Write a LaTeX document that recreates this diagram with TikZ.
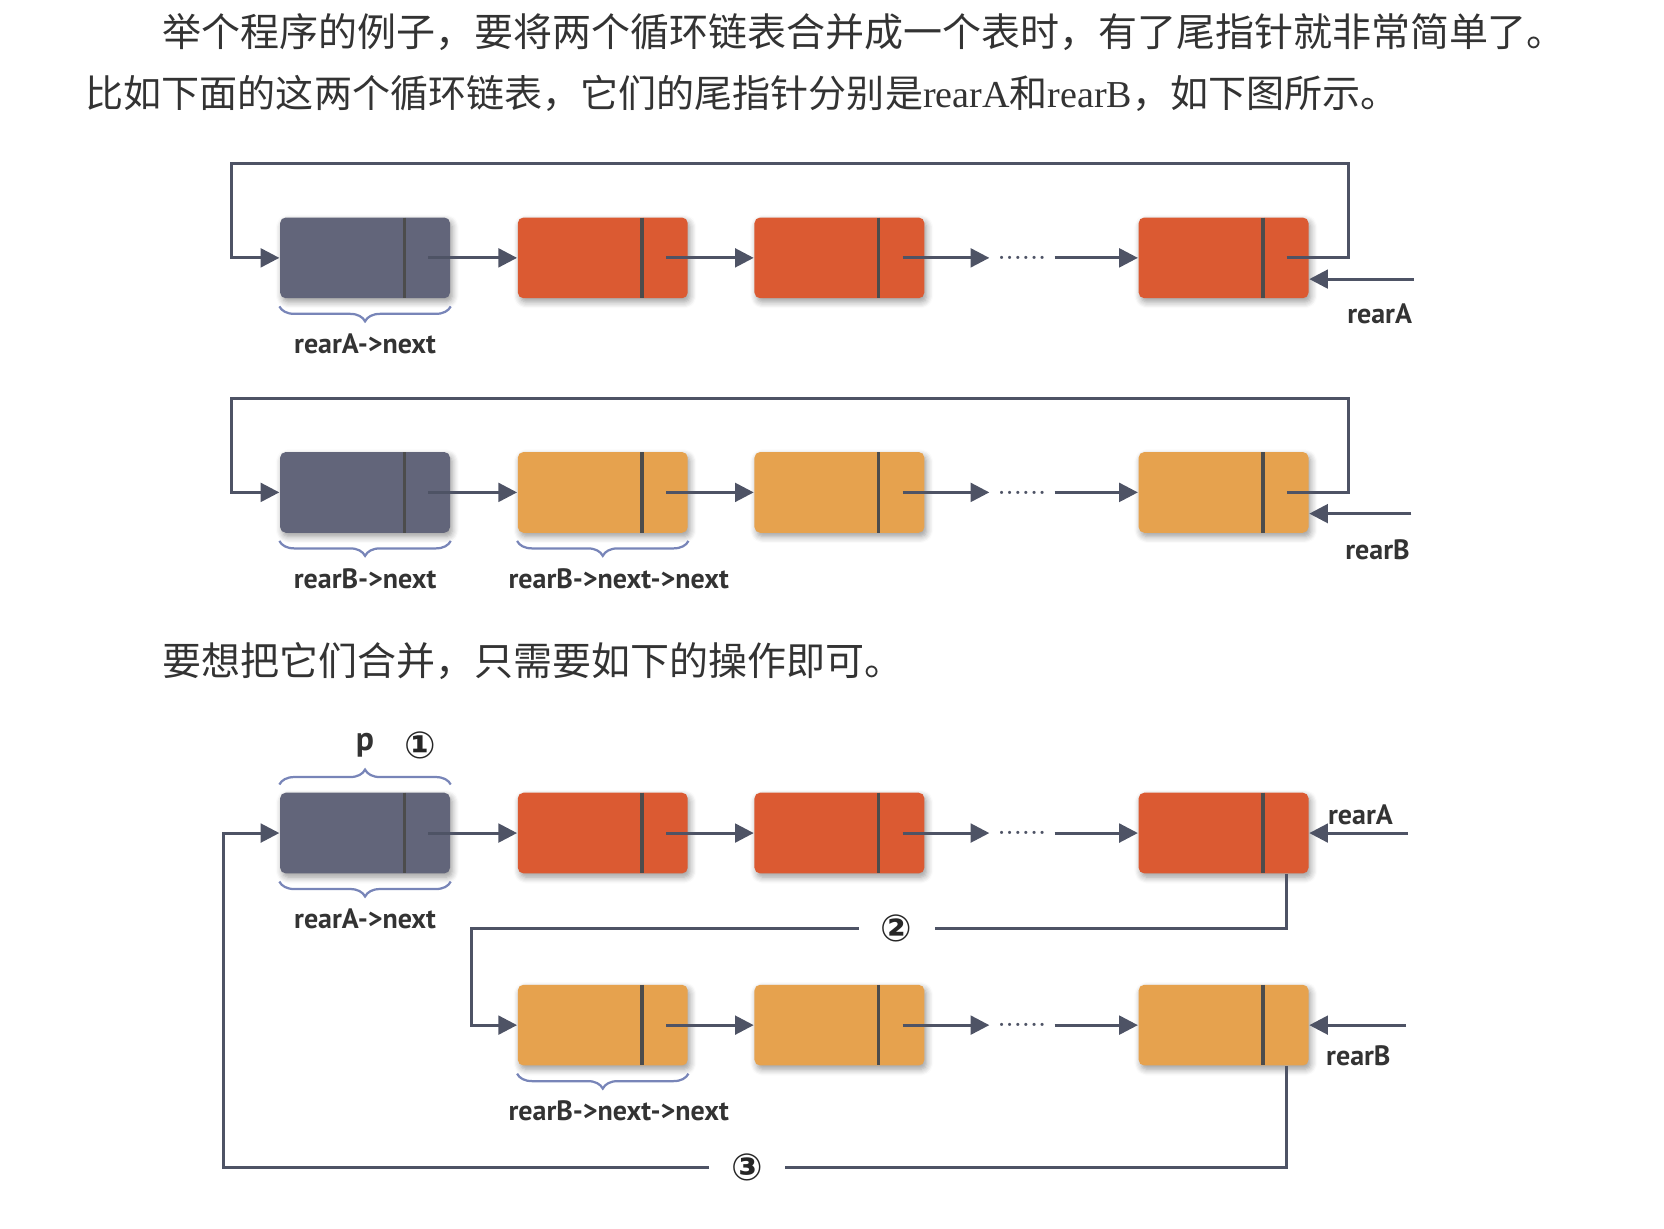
\documentclass[tikz,border=0pt]{standalone}
\usepackage{fontspec}
\newfontfamily\cjk{Noto Sans CJK SC}
\newfontfamily\lat{Liberation Serif}
\newfontfamily\lblfont{PT Sans}
\newfontfamily\symfont{DejaVu Sans}
\usepackage{xcolor}
\usepackage{tikz}
\usetikzlibrary{arrows.meta, positioning, calc, shadows.blur, decorations.pathreplacing}

\definecolor{nodegray}{HTML}{62657A}
\definecolor{nodered}{HTML}{DB5A32}
\definecolor{nodeylw}{HTML}{E6A24E}
\definecolor{linegray}{HTML}{4E5365}
\definecolor{bracecol}{HTML}{7885B8}

\begin{document}
\begin{tikzpicture}[
    x=0.01cm, y=-0.01cm,
    >={Triangle[length=5pt, width=5pt]},
    elem/.style={rounded corners=1.5pt, minimum width=1.6cm, minimum height=0.76cm, inner sep=0pt,
        blur shadow={shadow xshift=0.6pt, shadow yshift=-1pt, shadow blur steps=6, shadow opacity=40},
        path picture={\draw[black!70, line width=0.9pt] ([xshift=-0.43cm]path picture bounding box.north east) -- ([xshift=-0.43cm]path picture bounding box.south east);}},
    headnode/.style={elem, fill=nodegray},
    rednode/.style={elem, fill=nodered},
    ylwnode/.style={elem, fill=nodeylw},
    arrow/.style={->, line width=0.8pt, linegray},
    link/.style={line width=0.8pt, linegray},
    ellip/.style={minimum width=0.6cm, inner sep=0pt, font=\bfseries\tiny, text=linegray},
    brc/.style={decorate, decoration={brace, amplitude=4pt}, bracecol, line width=0.6pt},
    lbl/.style={font=\lblfont\bfseries\fontsize{7.5}{9}\selectfont, text=black!80, inner sep=1pt},
    circ/.style={font=\symfont\bfseries\fontsize{10}{11}\selectfont, text=black!85, inner sep=1pt},
    gap/.style={circ, fill=white, minimum width=0.7cm},
    para/.style={font=\cjk\fontsize{10.45}{12}\selectfont, text=black!80, anchor=west, inner sep=0pt}
]
\useasboundingbox (0,0) rectangle (1568,1158);

% Text
\node[para] (t1) at (152,30) {举个程序的例子，要将两个循环链表合并成一个表时，有了尾指针就非常简单了。};
\node[para, font=\cjk\fontsize{10.2}{12}\selectfont] (t2) at (80,88) {比如下面的这两个循环链表，它们的尾指针分别是{\lat rearA}和{\lat rearB}，如下图所示。};
\node[para] (t3) at (152,623) {要想把它们合并，只需要如下的操作即可。};

% List A
\node[headnode] (a1) at (344,243) {};
\node[rednode] (a2) at (568,243) {};
\node[rednode] (a3) at (791,243) {};
\node[ellip] (ea) at (963,243) {......};
\node[rednode] (a4) at (1153,243) {};

\draw[arrow] ([xshift=-6pt]a1.east) -- (a2.west);
\draw[arrow] ([xshift=-6pt]a2.east) -- (a3.west);
\draw[arrow] ([xshift=-6pt]a3.east) -- (ea.west);
\draw[arrow] (ea.east) -- (a4.west);
\draw[arrow] ([xshift=-6pt]a4.east) -| ([xshift=0.37cm, yshift=0.5cm]a4.north east) -| ([xshift=-0.45cm]a1.west) -- (a1.west);

\coordinate (ra) at (1332,263);
\draw[arrow] (ra) -- (ra -| a4.east);
\node[lbl] (la) at (1300,296) {rearA};
\draw[brc] ([yshift=-0.07cm]a1.south east) -- ([yshift=-0.07cm]a1.south west) node[midway, below=6pt, lbl] (la1) {rearA->next};

% List B
\node[headnode] (b1) at (344,464) {};
\node[ylwnode] (b2) at (568,464) {};
\node[ylwnode] (b3) at (791,464) {};
\node[ellip] (eb) at (963,464) {......};
\node[ylwnode] (b4) at (1153,464) {};

\draw[arrow] ([xshift=-6pt]b1.east) -- (b2.west);
\draw[arrow] ([xshift=-6pt]b2.east) -- (b3.west);
\draw[arrow] ([xshift=-6pt]b3.east) -- (eb.west);
\draw[arrow] (eb.east) -- (b4.west);
\draw[arrow] ([xshift=-6pt]b4.east) -| ([xshift=0.37cm, yshift=0.5cm]b4.north east) -| ([xshift=-0.45cm]b1.west) -- (b1.west);

\coordinate (rb) at (1330,484);
\draw[arrow] (rb) -- (rb -| b4.east);
\node[lbl] (lb) at (1298,518) {rearB};
\draw[brc] ([yshift=-0.07cm]b1.south east) -- ([yshift=-0.07cm]b1.south west) node[midway, below=6pt, lbl] (lb1) {rearB->next};
\draw[brc] ([yshift=-0.07cm]b2.south east) -- ([yshift=-0.07cm]b2.south west) node[midway, below=6pt, xshift=0.15cm, lbl] (lb2) {rearB->next->next};

% Merged A
\node[headnode] (c1) at (344,785) {};
\node[rednode] (c2) at (568,785) {};
\node[rednode] (c3) at (791,785) {};
\node[ellip] (ec) at (963,785) {......};
\node[rednode] (c4) at (1153,785) {};

\draw[arrow] ([xshift=-6pt]c1.east) -- (c2.west);
\draw[arrow] ([xshift=-6pt]c2.east) -- (c3.west);
\draw[arrow] ([xshift=-6pt]c3.east) -- (ec.west);
\draw[arrow] (ec.east) -- (c4.west);

\draw[brc] ([yshift=0.07cm]c1.north west) -- ([yshift=0.07cm]c1.north east) node[midway, above=6pt, lbl, font=\lblfont\bfseries\fontsize{9}{10}\selectfont] (pp) {p};
\node[circ, right=0.2cm of pp] (s1) {①};
\draw[brc] ([yshift=-0.07cm]c1.south east) -- ([yshift=-0.07cm]c1.south west) node[midway, below=6pt, lbl] (lc1) {rearA->next};

\coordinate (rc) at (1327,785);
\draw[arrow] (rc) -- (c4.east);
\node[lbl] (lc) at (1282,768) {rearA};

% Merged B
\node[ylwnode] (d2) at (568,966) {};
\node[ylwnode] (d3) at (791,966) {};
\node[ellip] (ed) at (963,966) {......};
\node[ylwnode] (d4) at (1153,966) {};

\draw[arrow] ([xshift=-6pt]d2.east) -- (d3.west);
\draw[arrow] ([xshift=-6pt]d3.east) -- (ed.west);
\draw[arrow] (ed.east) -- (d4.west);

\coordinate (rd) at (1325,966);
\draw[arrow] (rd) -- (d4.east);
\node[lbl] (ld) at (1280,995) {rearB};
\draw[brc] ([yshift=-0.07cm]d2.south east) -- ([yshift=-0.07cm]d2.south west) node[midway, below=6pt, xshift=0.15cm, lbl] (ld2) {rearB->next->next};

% Step 2 and 3
\node[gap] (s2) at (845,875) {②};
\draw[link] ([xshift=-6pt]c4.south east) |- (s2.east);
\draw[arrow] (s2.west) -| ([xshift=-0.43cm]d2.west) -- (d2.west);

\node[gap] (s3) at (704,1100) {③};
\draw[link] ([xshift=-6pt]d4.south east) |- (s3.east);
\draw[arrow] (s3.west) -| ([xshift=-0.53cm]c1.west) -- (c1.west);

\end{tikzpicture}
\end{document}
